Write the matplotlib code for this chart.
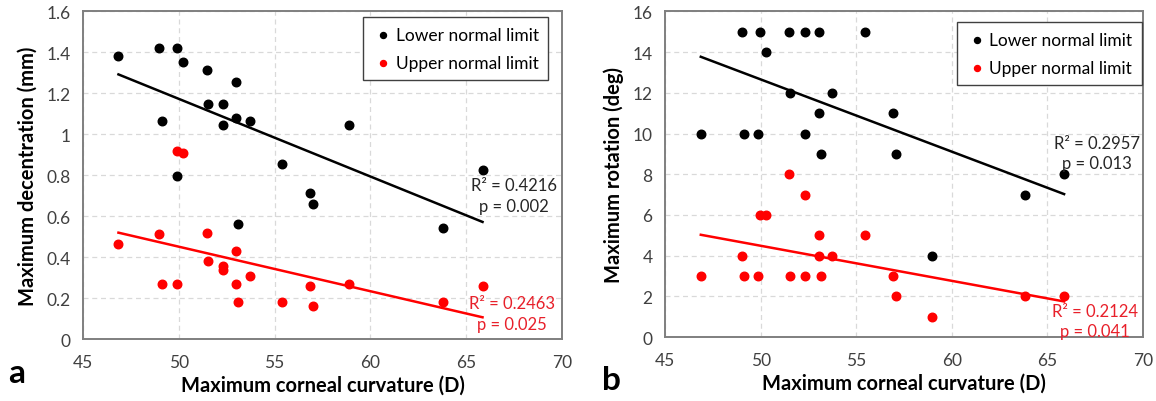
import matplotlib
matplotlib.use("Agg")
import matplotlib.pyplot as plt
import numpy as np

plt.rcParams.update({
    "font.family": ["Lato", "DejaVu Sans"],
    "font.size": 11,
    "figure.dpi": 100,
})

# ---- panel a: maximum decentration (mm) ----
a_low_x = [46.85, 48.95, 49.9, 50.24, 51.45, 53.0, 51.5, 52.3, 49.1, 53.0,
           53.7, 52.3, 58.9, 49.9, 55.4, 65.85, 56.85, 57.0, 53.1, 63.8]
a_low_y = [1.382, 1.418, 1.418, 1.35, 1.314, 1.252, 1.145, 1.145, 1.062, 1.08,
           1.062, 1.045, 1.045, 0.794, 0.855, 0.826, 0.712, 0.659, 0.561, 0.541]
a_up_x = [49.9, 50.24, 46.85, 48.95, 51.45, 53.0, 51.5, 52.3, 52.3, 53.7,
          49.1, 49.9, 53.0, 58.9, 56.85, 65.85, 53.1, 55.4, 63.8, 57.0]
a_up_y = [0.915, 0.906, 0.463, 0.512, 0.517, 0.429, 0.382, 0.358, 0.338, 0.306,
          0.27, 0.27, 0.27, 0.27, 0.257, 0.257, 0.182, 0.182, 0.182, 0.16]
a_stats = [("R\u00b2 = 0.4216", "p = 0.002"), ("R\u00b2 = 0.2463", "p = 0.025")]

# ---- panel b: maximum rotation (deg) ----
b_low_x = [49.0, 49.97, 51.5, 52.3, 53.07, 55.47, 50.26, 51.53, 53.75, 53.05,
           56.9, 46.87, 49.15, 49.88, 52.3, 53.15, 57.07, 65.87, 63.82, 58.97]
b_low_y = [15, 15, 15, 15, 15, 15, 14, 12, 12, 11,
           11, 10, 10, 10, 10, 9, 9, 8, 7, 4]
b_up_x = [51.5, 52.33, 49.97, 50.28, 53.05, 55.47, 49.0, 53.05, 53.75, 46.87,
          49.15, 49.88, 51.53, 52.3, 53.15, 56.9, 57.07, 63.82, 65.87, 58.97]
b_up_y = [8, 7, 6, 6, 5, 5, 4, 4, 4, 3,
          3, 3, 3, 3, 3, 3, 2, 2, 2, 1]
b_stats = [("R\u00b2 = 0.2957", "p = 0.013"), ("R\u00b2 = 0.2124", "p = 0.041")]

LOW = "#000000"
UP = "#ff0000"
STAT_UP = "#e8202a"
FRAME = "#7f7f7f"
GRID = "#d9d9d9"


def trend(ax, x, y, color):
    k, b = np.polyfit(x, y, 1)
    xs = np.array([min(x), max(x)])
    ax.plot(xs, k * xs + b, color=color, lw=1.8, zorder=2)


def panel(ax, lx, ly, ux, uy, ymax, ystep, ylabel, stats, pos, leg_anchor):
    ax.scatter(lx, ly, s=38, color=LOW, zorder=3, label="Lower normal limit")
    ax.scatter(ux, uy, s=38, color=UP, zorder=3, label="Upper normal limit")
    trend(ax, lx, ly, LOW)
    trend(ax, ux, uy, UP)
    ax.set_xlim(45, 70)
    ax.set_ylim(0, ymax)
    ax.set_xticks(range(45, 71, 5))
    yt = np.arange(0, ymax + ystep / 2, ystep)
    ax.set_yticks(yt)
    ax.set_yticklabels([f"{v:g}" for v in yt])
    ax.tick_params(length=0, labelsize=12.5, colors="#404040", pad=9)
    ax.tick_params(axis="x", pad=11)
    ax.grid(True, color=GRID, ls=(0, (4, 3)), lw=0.9)
    ax.set_axisbelow(True)
    for s in ax.spines.values():
        s.set_color(FRAME)
        s.set_linewidth(1.4)
    ax.set_xlabel("Maximum corneal curvature (D)", fontsize=14.5,
                  fontweight="bold", labelpad=3)
    ax.set_ylabel(ylabel, fontsize=14.5, fontweight="bold", labelpad=6)
    (r1, p1), (r2, p2) = stats
    (x1, y1), (x2, y2) = pos
    ax.text(x1, y1, f"{r1}\n{p1}", transform=ax.transAxes, ha="center",
            va="center", fontsize=12, color="#262626", linespacing=1.35)
    ax.text(x2, y2, f"{r2}\n{p2}", transform=ax.transAxes, ha="center",
            va="center", fontsize=12, color=STAT_UP, linespacing=1.35)
    leg = ax.legend(loc="upper right", bbox_to_anchor=leg_anchor,
                    borderaxespad=0, fontsize=12.5, handletextpad=0.1,
                    markerscale=0.7, borderpad=0.55, labelspacing=0.7,
                    fancybox=False, framealpha=1, handlelength=1.2)
    leg.get_frame().set_edgecolor("#404040")
    leg.get_frame().set_linewidth(1.0)


fig = plt.figure(figsize=(11.56, 4.02))
ax1 = fig.add_axes([0.0718, 0.154, 0.4144, 0.816])
ax2 = fig.add_axes([0.5753, 0.159, 0.4135, 0.810])

panel(ax1, a_low_x, a_low_y, a_up_x, a_up_y, 1.6, 0.2,
      "Maximum decentration (mm)", a_stats, [(0.90, 0.437), (0.895, 0.078)],
      (0.971, 0.982))
panel(ax2, b_low_x, b_low_y, b_up_x, b_up_y, 16, 2,
      "Maximum rotation (deg)", b_stats, [(0.904, 0.565), (0.900, 0.05)],
      (0.997, 0.967))

fig.text(0.007, 0.047, "a", fontsize=24, fontweight="bold")
fig.text(0.521, 0.03, "b", fontsize=24, fontweight="bold")

fig.savefig("out.png", dpi=100)
